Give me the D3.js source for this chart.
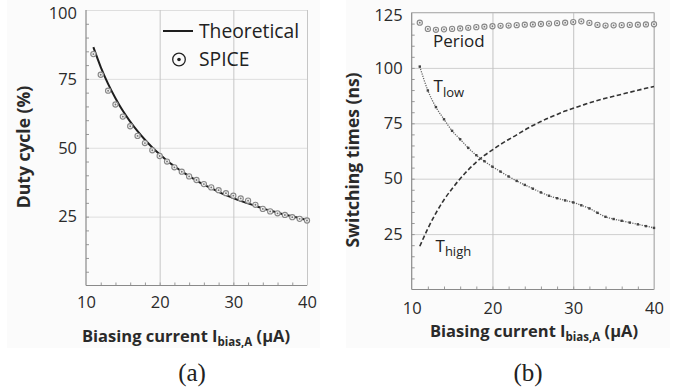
<!DOCTYPE html>
<html>
<head>
<meta charset="utf-8">
<script src="https://cdn.jsdelivr.net/npm/d3@7"></script>
<style>
  html, body { margin: 0; padding: 0; background: #fff; }
  svg { display: block; }
</style>
</head>
<body>
<svg id="chart" width="689" height="390"></svg>
<script>
// ---------- data ----------
const xTickValues = [10, 20, 30, 40];
const dutyTickValues = [25, 50, 75, 100];
const timeTickValues = [25, 50, 75, 100, 125];

const spiceCurrent = [11,12,13,14,15,16,17,18,19,20,21,22,23,24,25,26,27,28,29,30,31,32,33,34,35,36,37,38,39,40];
const spiceDuty    = [84,76.5,70.7,65.7,61.3,57.8,54.3,51.7,49.1,47,45,42.9,41.3,39.6,38.3,36.8,35.6,34.6,33.5,32.6,31.6,30.8,29.3,27.8,26.9,26.2,25.6,24.8,24.2,23.6];

const theoCurrent = [11,12,13,14,15,16,17,18,19,20,21,22,23,24,25,26,27,28,29,30,31,32,33,34,35,36,37,38,39,40];
const theoDuty    = [86.5,79.3,73.2,68.0,63.4,59.5,56.0,52.9,50.1,47.6,45.3,43.3,41.4,39.7,38.1,36.6,35.3,34.0,32.8,31.7,30.7,29.8,28.9,28.0,27.2,26.4,25.7,25.1,24.4,23.8];

const simCurrent = [11,12,13,14,15,16,17,18,19,20,21,22,23,24,25,26,27,28,29,30,31,32,33,34,35,36,37,38,39,40];
const period = [120.4,117.6,117.2,117.4,117.6,117.8,118.1,118.4,118.6,118.8,119.0,119.1,119.3,119.5,119.6,119.8,120.0,120.2,120.4,120.7,121.0,120.3,119.4,119.1,119.2,119.3,119.4,119.5,119.6,119.7];
const tLow   = [100.6,89.8,82.3,76.8,71.6,67.8,63.9,60.6,57.9,55.4,53.2,51.0,49.0,47.2,45.5,43.8,42.3,41.2,40.2,39.3,38.0,36.6,34.6,32.8,31.8,31.0,30.2,29.4,28.6,27.8];
const tHigh  = [19.5,27.5,34.5,40.5,45.5,50.0,54.0,57.5,60.5,63.0,65.5,67.7,69.8,72.0,74.0,75.8,77.5,79.0,80.5,81.8,83.0,84.2,85.3,86.3,87.2,88.1,89.0,89.9,90.8,91.6];

// ---------- drawing ----------
const svg = d3.select("#chart");
const SANS = "'Open Sans', Lato, sans-serif";
const SERIF = "'Liberation Serif', 'DejaVu Serif', serif";

function panel(opts) {
  const g = svg.append("g");
  const x = d3.scaleLinear().domain([10, 40]).range([opts.x0, opts.x1]);
  const y = d3.scaleLinear().domain([0, opts.ymax]).range([opts.y0, opts.y1]);

  g.append("rect").attr("x", opts.bg[0]).attr("y", opts.bg[1])
    .attr("width", opts.bg[2]).attr("height", opts.bg[3]).attr("fill", "#fbfbfb");

  const hg = g.append("g").attr("transform", `translate(${opts.x0},0)`)
    .call(d3.axisLeft(y).tickValues(opts.yTicks).tickSize(-(opts.x1 - opts.x0)).tickFormat(""));
  hg.select(".domain").remove();
  hg.selectAll("line").attr("stroke", opts.hGrid).attr("stroke-width", 1);

  const vg = g.append("g").attr("transform", `translate(0,${opts.y0})`)
    .call(d3.axisBottom(x).tickValues(xTickValues.slice(1)).tickSize(-(opts.y0 - opts.y1)).tickFormat(""));
  vg.select(".domain").remove();
  vg.selectAll("line").attr("stroke", opts.vGrid).attr("stroke-width", 1);

  const yMinor = d3.range(5, opts.ymax, 5);
  const ym = g.append("g").attr("transform", `translate(${opts.x0},0)`)
    .call(d3.axisRight(y).tickValues(yMinor).tickSize(3).tickFormat(""));
  ym.select(".domain").remove();
  ym.selectAll("line").attr("stroke", "#999");
  const xMinor = d3.range(12, 40, 2);
  const xm = g.append("g").attr("transform", `translate(0,${opts.y0})`)
    .call(d3.axisTop(x).tickValues(xMinor).tickSize(3).tickFormat(""));
  xm.select(".domain").remove();
  xm.selectAll("line").attr("stroke", "#999");

  g.append("line").attr("x1", opts.x0).attr("x2", opts.x0).attr("y1", opts.y1).attr("y2", opts.y0)
    .attr("stroke", "#8a8a8a").attr("stroke-width", 1.2);
  g.append("line").attr("x1", opts.x0).attr("x2", opts.x1).attr("y1", opts.y0).attr("y2", opts.y0)
    .attr("stroke", "#8a8a8a").attr("stroke-width", 1.2);

  const yl = g.append("g").attr("transform", `translate(${opts.x0},0)`)
    .call(d3.axisLeft(y).tickValues(opts.yTicks).tickSize(0).tickPadding(9));
  yl.select(".domain").remove();
  yl.selectAll("text").attr("font-family", SANS).attr("font-size", 16.5).attr("fill", "#2a2a2a")
    .attr("dy", d => (y(d) < 14 ? "0.5em" : "0.32em"));
  const xl = g.append("g").attr("transform", `translate(0,${opts.y0})`)
    .call(d3.axisBottom(x).tickValues(xTickValues).tickSize(0).tickPadding(opts.xPad));
  xl.select(".domain").remove();
  xl.selectAll("text").attr("font-family", SANS).attr("font-size", 16.5).attr("fill", "#2a2a2a");

  const xt = g.append("text").attr("x", opts.xTitle[0]).attr("y", opts.xTitle[1])
    .attr("text-anchor", "middle").attr("font-family", SANS).attr("font-weight", "bold")
    .attr("font-size", 16.5).attr("fill", "#2a2a2a");
  xt.append("tspan").text("Biasing current I");
  xt.append("tspan").attr("font-size", 11.5).attr("dy", 4).text("bias,A");
  xt.append("tspan").attr("dy", -4).text(" (\u03bcA)");

  g.append("text").attr("transform", `translate(${opts.yTitle[0]},${opts.yTitle[1]}) rotate(-90)`)
    .attr("text-anchor", "middle").attr("font-family", SANS).attr("font-weight", "bold")
    .attr("font-size", 17.5).attr("fill", "#2a2a2a").text(opts.yLabel);

  g.append("text").attr("x", opts.cap[0]).attr("y", opts.cap[1]).attr("text-anchor", "middle")
    .attr("font-family", SERIF).attr("font-size", 25).attr("fill", "#222").text(opts.caption);

  return { g, x, y };
}

function spiceMarker(sel, r) {
  sel.append("circle").attr("r", r).attr("fill", "#f2f2f2").attr("stroke", "#888").attr("stroke-width", 1.1);
  sel.append("circle").attr("r", r * 0.35).attr("fill", "#777");
}

// ---- panel (a) ----
const A = panel({
  x0: 86, x1: 307, y0: 285.5, y1: 10, ymax: 100, yTicks: dutyTickValues,
  hGrid: "#dedede", vGrid: "#c6c6c6", xPad: 11,
  xTitle: [186, 341.5], yTitle: [30, 147], yLabel: "Duty cycle (%)",
  cap: [192, 381], caption: "(a)", bg: [7, 0, 313, 348]
});

A.g.append("path").datum(theoCurrent.map((c, i) => [c, theoDuty[i]]))
  .attr("fill", "none").attr("stroke", "#1e1e1e").attr("stroke-width", 2)
  .attr("d", d3.line().x(d => A.x(d[0])).y(d => A.y(d[1])).curve(d3.curveMonotoneX));

A.g.selectAll(".sp").data(spiceCurrent.map((c, i) => [c, spiceDuty[i]])).enter()
  .append("g").attr("transform", d => `translate(${A.x(d[0])},${A.y(d[1])})`)
  .each(function () { spiceMarker(d3.select(this), 2.6); });

// legend
A.g.append("line").attr("x1", 163).attr("x2", 193).attr("y1", 31).attr("y2", 31)
  .attr("stroke", "#1e1e1e").attr("stroke-width", 2);
A.g.append("text").attr("x", 199).attr("y", 37.5).attr("font-family", SANS).attr("font-size", 19.3)
  .attr("fill", "#222").text("Theoretical");
const lg = A.g.append("g").attr("transform", "translate(179,59.5)");
lg.append("circle").attr("r", 6.3).attr("fill", "none").attr("stroke", "#222").attr("stroke-width", 1.3);
lg.append("circle").attr("r", 1.8).attr("fill", "#222");
A.g.append("text").attr("x", 199).attr("y", 66).attr("font-family", SANS).attr("font-size", 19.3)
  .attr("fill", "#222").text("SPICE");

// ---- panel (b) ----
const B = panel({
  x0: 411.7, x1: 654, y0: 289.5, y1: 12.5, ymax: 125, yTicks: timeTickValues,
  hGrid: "#cfcfcf", vGrid: "#c2c2c2", xPad: 13,
  xTitle: [534, 336.5], yTitle: [358.5, 160], yLabel: "Switching times (ns)",
  cap: [528, 381], caption: "(b)", bg: [346, 0, 324, 348]
});
B.g.append("line").attr("x1", B.x(10)).attr("x2", B.x(40)).attr("y1", B.y(125)).attr("y2", B.y(125))
  .attr("stroke", "#b5b5b5");
B.g.append("line").attr("x1", B.x(40)).attr("x2", B.x(40)).attr("y1", B.y(125)).attr("y2", B.y(0))
  .attr("stroke", "#b5b5b5");

B.g.append("path").datum(simCurrent.map((c, i) => [c, tHigh[i]]))
  .attr("fill", "none").attr("stroke", "#333").attr("stroke-width", 1.6).attr("stroke-dasharray", "4.5,2.5")
  .attr("d", d3.line().x(d => B.x(d[0])).y(d => B.y(d[1])).curve(d3.curveMonotoneX));

B.g.append("path").datum(simCurrent.map((c, i) => [c, tLow[i]]))
  .attr("fill", "none").attr("stroke", "#666").attr("stroke-width", 1.3).attr("stroke-dasharray", "1.2,1.2")
  .attr("d", d3.line().x(d => B.x(d[0])).y(d => B.y(d[1])).curve(d3.curveMonotoneX));
B.g.selectAll(".tl").data(simCurrent.map((c, i) => [c, tLow[i]])).enter()
  .append("rect").attr("x", d => B.x(d[0]) - 1.2).attr("y", d => B.y(d[1]) - 1.2)
  .attr("width", 2.4).attr("height", 2.4).attr("fill", "#444");

B.g.selectAll(".pd").data(simCurrent.map((c, i) => [c, period[i]])).enter()
  .append("g").attr("transform", d => `translate(${B.x(d[0])},${B.y(d[1])})`)
  .each(function () { spiceMarker(d3.select(this), 2.6); });

B.g.append("text").attr("x", 433).attr("y", 47).attr("font-family", SANS).attr("font-size", 17)
  .attr("fill", "#222").text("Period");
const tl = B.g.append("text").attr("x", 433.5).attr("y", 92).attr("font-family", SANS).attr("font-size", 17)
  .attr("fill", "#222");
tl.append("tspan").text("T");
tl.append("tspan").attr("dy", 4.5).attr("font-size", 13).text("low");
const th = B.g.append("text").attr("x", 435.5).attr("y", 251.5).attr("font-family", SANS).attr("font-size", 17)
  .attr("fill", "#222");
th.append("tspan").text("T");
th.append("tspan").attr("dy", 4.5).attr("font-size", 13).text("high");
</script>
</body>
</html>
